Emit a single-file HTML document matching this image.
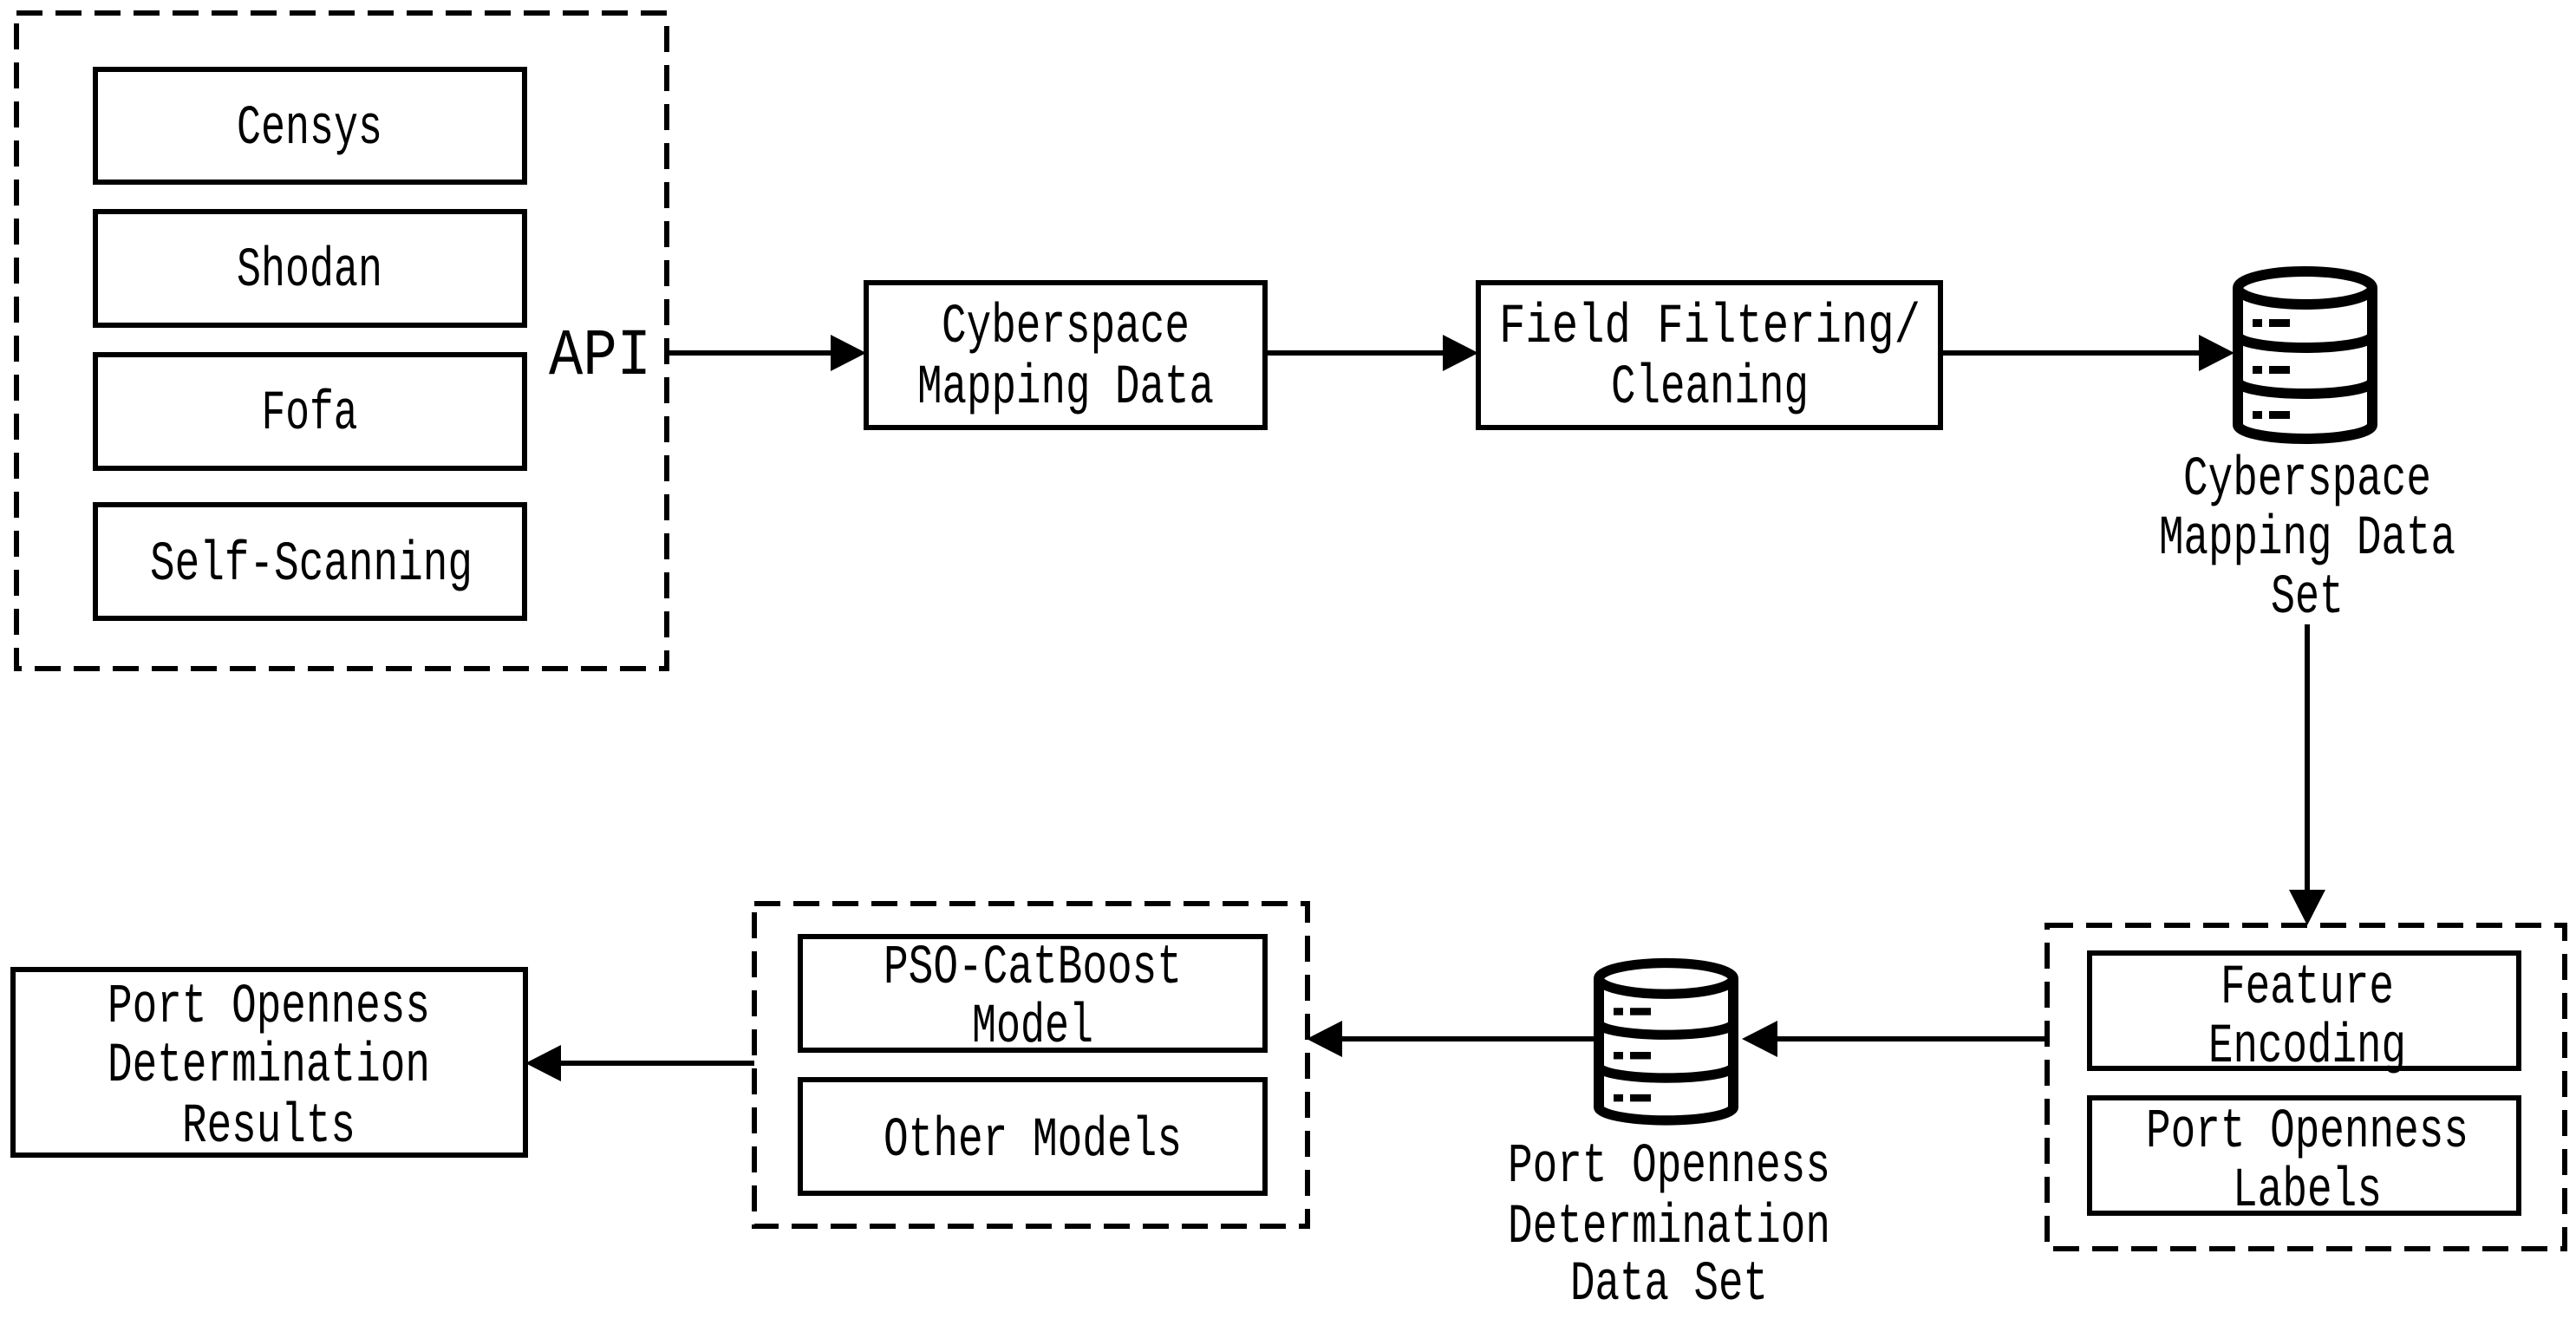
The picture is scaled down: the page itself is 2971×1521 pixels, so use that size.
<!DOCTYPE html>
<html><head><meta charset="utf-8"><style>
html,body{margin:0;padding:0;background:#fff;}
svg{display:block;}
text{font-family:"Liberation Mono","DejaVu Sans Mono",monospace;font-size:64px;fill:#000;}
</style></head><body>
<svg width="2971" height="1521" viewBox="0 0 2971 1521" xmlns="http://www.w3.org/2000/svg">
<defs>
<g id="db">
<path d="M6,27 V185 A77.5,16 0 0 0 161,185 V27" fill="#fff" stroke="#000" stroke-width="12"/>
<ellipse cx="83.5" cy="27" rx="77.5" ry="19" fill="#fff" stroke="#000" stroke-width="12"/>
<path d="M6,82 A77.5,14 0 0 0 161,82 M6,135 A77.5,14 0 0 0 161,135" fill="none" stroke="#000" stroke-width="12"/>
<rect x="23" y="63" width="11" height="9"/><rect x="42" y="63" width="24" height="9"/>
<rect x="23" y="117" width="11" height="9"/><rect x="42" y="117" width="24" height="9"/>
<rect x="23" y="169" width="11" height="9"/><rect x="42" y="169" width="24" height="9"/>
</g>
</defs>
<g fill="none" stroke="#000" stroke-width="6">
<rect x="19" y="15" width="750" height="756" stroke-dasharray="30,15"/>
<rect x="110" y="80" width="495" height="130"/>
<rect x="110" y="244" width="495" height="131"/>
<rect x="110" y="409" width="495" height="131"/>
<rect x="110" y="582" width="495" height="131"/>
<rect x="999" y="326" width="460" height="167"/>
<rect x="1705" y="326" width="533" height="167"/>
<rect x="2361" y="1067" width="597" height="373" stroke-dasharray="30,15"/>
<rect x="2410" y="1099" width="495" height="133"/>
<rect x="2410" y="1266" width="495" height="133"/>
<rect x="870" y="1042" width="638" height="372" stroke-dasharray="30,15"/>
<rect x="923" y="1080" width="536" height="131"/>
<rect x="923" y="1245" width="536" height="131"/>
<rect x="15" y="1118" width="591" height="214"/>
</g>
<g stroke="#000" stroke-width="6">
<line x1="769" y1="407" x2="960" y2="407"/>
<line x1="1459" y1="407" x2="1666" y2="407"/>
<line x1="2238" y1="407" x2="2538" y2="407"/>
<line x1="2661" y1="720" x2="2661" y2="1028"/>
<line x1="2361" y1="1198" x2="2048" y2="1198"/>
<line x1="1838" y1="1198" x2="1546" y2="1198"/>
<line x1="870" y1="1226" x2="645" y2="1226"/>
</g>
<g>
<path d="M958,386 L999,407 L958,428Z"/>
<path d="M1664,386 L1705,407 L1664,428Z"/>
<path d="M2536,386 L2577,407 L2536,428Z"/>
<path d="M2640,1026 L2661,1067 L2682,1026Z"/>
<path d="M2050,1177 L2009,1198 L2050,1219Z"/>
<path d="M1548,1177 L1507,1198 L1548,1219Z"/>
<path d="M647,1205 L606,1226 L647,1247Z"/>
</g>
<use href="#db" x="2575" y="305"/>
<g transform="translate(1838,1103) scale(1,0.94)"><use href="#db"/></g>
<g text-anchor="middle" dominant-baseline="central">
<text x="357" y="149" textLength="168" lengthAdjust="spacingAndGlyphs">Censys</text>
<text x="357" y="313" textLength="168" lengthAdjust="spacingAndGlyphs">Shodan</text>
<text x="357" y="478" textLength="111" lengthAdjust="spacingAndGlyphs">Fofa</text>
<text x="359" y="652" textLength="372" lengthAdjust="spacingAndGlyphs">Self-Scanning</text>
<text x="692" y="411" textLength="118" lengthAdjust="spacingAndGlyphs" style="font-size:76px">API</text>
<text x="1229" y="378" textLength="286" lengthAdjust="spacingAndGlyphs">Cyberspace</text>
<text x="1229" y="448" textLength="342" lengthAdjust="spacingAndGlyphs">Mapping Data</text>
<text x="1972" y="378" textLength="486" lengthAdjust="spacingAndGlyphs">Field Filtering/</text>
<text x="1972" y="448" textLength="228" lengthAdjust="spacingAndGlyphs">Cleaning</text>
<text x="2661" y="554" textLength="286" lengthAdjust="spacingAndGlyphs">Cyberspace</text>
<text x="2661" y="622" textLength="342" lengthAdjust="spacingAndGlyphs">Mapping Data</text>
<text x="2661" y="690" textLength="84" lengthAdjust="spacingAndGlyphs">Set</text>
<text x="2661" y="1140" textLength="200" lengthAdjust="spacingAndGlyphs">Feature</text>
<text x="2661" y="1208" textLength="228" lengthAdjust="spacingAndGlyphs">Encoding</text>
<text x="2661" y="1306" textLength="372" lengthAdjust="spacingAndGlyphs">Port Openness</text>
<text x="2661" y="1374" textLength="172" lengthAdjust="spacingAndGlyphs">Labels</text>
<text x="1925" y="1346" textLength="372" lengthAdjust="spacingAndGlyphs">Port Openness</text>
<text x="1925" y="1416" textLength="372" lengthAdjust="spacingAndGlyphs">Determination</text>
<text x="1925" y="1482" textLength="228" lengthAdjust="spacingAndGlyphs">Data Set</text>
<text x="1191" y="1117" textLength="344" lengthAdjust="spacingAndGlyphs">PSO-CatBoost</text>
<text x="1191" y="1185" textLength="140" lengthAdjust="spacingAndGlyphs">Model</text>
<text x="1191" y="1316" textLength="344" lengthAdjust="spacingAndGlyphs">Other Models</text>
<text x="310" y="1162" textLength="372" lengthAdjust="spacingAndGlyphs">Port Openness</text>
<text x="310" y="1230" textLength="372" lengthAdjust="spacingAndGlyphs">Determination</text>
<text x="310" y="1300" textLength="200" lengthAdjust="spacingAndGlyphs">Results</text>
</g>
</svg>
</body></html>
